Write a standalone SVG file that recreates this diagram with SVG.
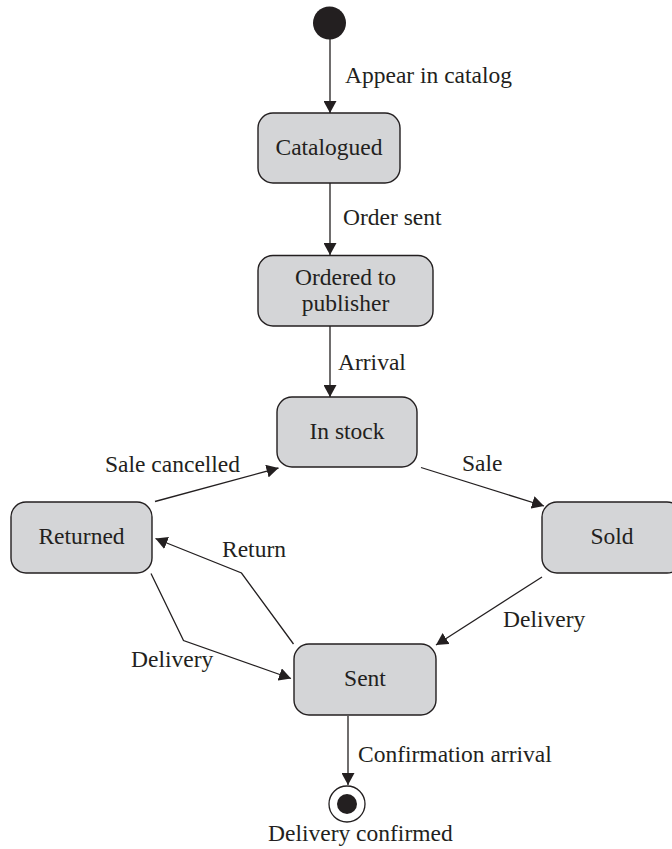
<svg xmlns="http://www.w3.org/2000/svg" width="672" height="849" viewBox="0 0 672 849">
<style>
.bg{fill:#ffffff}
.state rect{fill:#d4d5d7;stroke:#231f20;stroke-width:1.4}
text{font-family:"Liberation Serif","Times New Roman",serif;font-size:23.5px;fill:#231f20}
.nt{text-anchor:middle}
.edge{fill:none;stroke:#231f20;stroke-width:1.3;marker-end:url(#ah)}
</style>
<defs>
<marker id="ah" markerUnits="userSpaceOnUse" viewBox="0 0 12 13" refX="12" refY="6.5" markerWidth="12" markerHeight="13" orient="auto">
<path d="M0,0 L12,6.5 L0,13 z" fill="#231f20"/>
</marker>
</defs>
<rect class="bg" x="0" y="0" width="672" height="849"/>

<g id="connectors">
<line class="edge" x1="330" y1="39" x2="330" y2="113"/>
<line class="edge" x1="330" y1="183" x2="330" y2="255"/>
<line class="edge" x1="330" y1="326" x2="330" y2="397"/>
<line class="edge" x1="421" y1="467.5" x2="544" y2="506"/>
<line class="edge" x1="542" y1="577" x2="436" y2="645"/>
<line class="edge" x1="155" y1="501.5" x2="278.5" y2="468"/>
<polyline class="edge" points="293.5,644 241.5,573 155.5,538.5"/>
<polyline class="edge" points="151,573.5 183.5,640.5 291,678.5"/>
<line class="edge" x1="348" y1="716" x2="348" y2="785"/>
</g>

<g id="start">
<circle cx="329.5" cy="23" r="16.5" fill="#231f20"/>
</g>

<g id="catalogued" class="state">
<rect x="258" y="113" width="142" height="70" rx="15" ry="15"/>
<text class="nt" x="329" y="155">Catalogued</text>
</g>

<g id="ordered" class="state">
<rect x="258" y="255.5" width="175" height="70.5" rx="15" ry="15"/>
<text class="nt" x="345.5" y="285">Ordered to</text>
<text class="nt" x="345.5" y="311">publisher</text>
</g>

<g id="instock" class="state">
<rect x="277" y="397" width="140" height="70" rx="15" ry="15"/>
<text class="nt" x="347" y="439">In stock</text>
</g>

<g id="sold" class="state">
<rect x="542" y="502" width="140" height="71" rx="15" ry="15"/>
<text class="nt" x="612" y="544">Sold</text>
</g>

<g id="returned" class="state">
<rect x="11" y="502" width="141" height="71" rx="15" ry="15"/>
<text class="nt" x="81.5" y="544">Returned</text>
</g>

<g id="sent" class="state">
<rect x="294" y="644" width="142" height="71" rx="15" ry="15"/>
<text class="nt" x="365" y="686">Sent</text>
</g>

<g id="final">
<circle cx="347" cy="804" r="18" fill="#ffffff" stroke="#231f20" stroke-width="1.3"/>
<circle cx="347" cy="804" r="10" fill="#231f20"/>
<text x="268" y="841">Delivery confirmed</text>
</g>

<g id="labels">
<text x="345" y="83">Appear in catalog</text>
<text x="343" y="225">Order sent</text>
<text x="338" y="370">Arrival</text>
<text x="105" y="472">Sale cancelled</text>
<text x="462" y="471">Sale</text>
<text x="222" y="557">Return</text>
<text x="503" y="627">Delivery</text>
<text x="131" y="667">Delivery</text>
<text x="358" y="762">Confirmation arrival</text>
</g>
</svg>
